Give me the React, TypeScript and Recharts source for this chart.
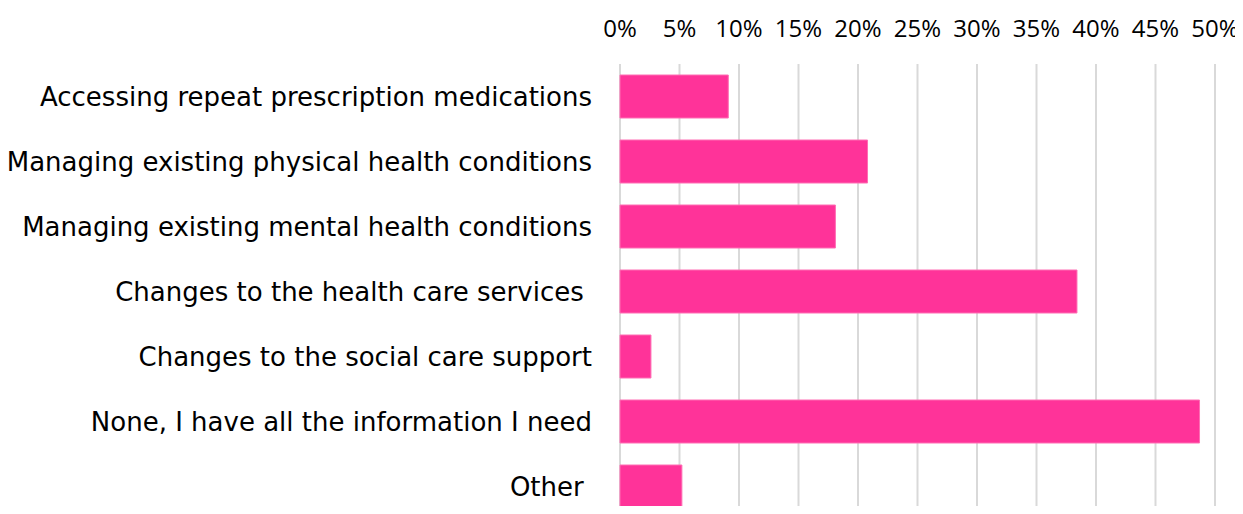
import { BarChart, Bar, XAxis, YAxis, CartesianGrid } from 'recharts';

const categories = [
    'Accessing repeat prescription medications',
    'Managing existing physical health conditions',
    'Managing existing mental health conditions',
    'Changes to the health care services ',
    'Changes to the social care support',
    'None, I have all the information I need',
    'Other ',
];
const shares = [9.1, 20.8, 18.1, 38.4, 2.6, 48.7, 5.2];
const xTicks = [0, 5, 10, 15, 20, 25, 30, 35, 40, 45, 50];

const data = categories.map((name, i) => ({ name, value: shares[i] }));

const LABEL_FONT = '"DejaVu Sans", sans-serif';
const TICK_FONT = '"Open Sans", sans-serif';

const CategoryTick = ({ x, y, payload }: any) => (
    <text
        x={x}
        y={y}
        dy={9}
        textAnchor="end"
        fill="#000"
        fontSize={26}
        fontFamily={LABEL_FONT}
        style={{ whiteSpace: 'pre' }}
    >
        {payload.value}
    </text>
);

const App = () => {
    return (
        // cancel the body margin so the chart fills the whole window
        <div style={{ width: 1243, height: 514, margin: -8 }}>
            <BarChart
                width={1243}
                height={514}
                data={data}
                layout="vertical"
                margin={{ top: 24, right: 28, left: 0, bottom: -5 }}
                barCategoryGap={11}
            >
                <CartesianGrid horizontal={false} stroke="#d9d9d9" strokeWidth={2} />
                <XAxis
                    type="number"
                    orientation="top"
                    domain={[0, 50]}
                    ticks={xTicks}
                    tickFormatter={(v: number) => `${v}%`}
                    axisLine={false}
                    tickLine={false}
                    tickSize={0}
                    tickMargin={27}
                    height={40}
                    interval={0}
                    tick={{ fontSize: 24, fill: '#000', fontFamily: TICK_FONT }}
                />
                <YAxis
                    type="category"
                    dataKey="name"
                    width={620}
                    axisLine={false}
                    tickLine={false}
                    tickSize={0}
                    tickMargin={28}
                    interval={0}
                    tick={<CategoryTick />}
                />
                <Bar
                    dataKey="value"
                    fill="#FF3399"
                    stroke="#FF6EB4"
                    strokeWidth={1}
                    isAnimationActive={false}
                />
            </BarChart>
        </div>
    );
};

export default App;
